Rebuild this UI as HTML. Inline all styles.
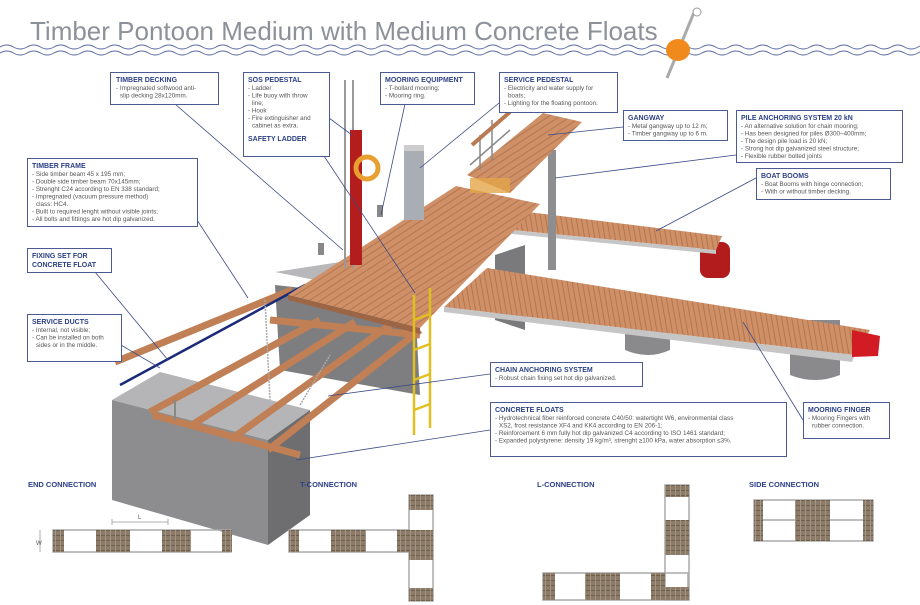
<!DOCTYPE html>
<html><head><meta charset="utf-8"><style>
html,body{margin:0;padding:0;background:#fff;}
svg{display:block;font-family:"Liberation Sans",sans-serif;}
.h{font-weight:bold;fill:#2b3f86;font-size:7px;}
.t{fill:#555;font-size:6.3px;}
.box{fill:#fff;stroke:#4a5a94;stroke-width:1;}
.ln{stroke:#3c4a86;stroke-width:0.8;fill:none;}
.cap{font-weight:bold;fill:#2b3f86;font-size:7.5px;}
</style></head><body>
<svg width="920" height="605" viewBox="0 0 920 605">
<defs>
<pattern id="wood" width="6" height="6" patternUnits="userSpaceOnUse" patternTransform="rotate(-33)">
<rect width="6" height="6" fill="#cf9068"/><rect width="6" height="1" fill="#b3764f"/></pattern>
<pattern id="wood2" width="5" height="5" patternUnits="userSpaceOnUse" patternTransform="rotate(80)">
<rect width="5" height="5" fill="#cf9068"/><rect width="5" height="1" fill="#b3764f"/></pattern>
<pattern id="grid" width="5" height="5" patternUnits="userSpaceOnUse">
<rect width="5" height="5" fill="#8c7b68"/><rect width="5" height="1" fill="#6e604f"/><rect width="1" height="5" fill="#a39483"/></pattern>
</defs>

<!-- title -->
<text x="30" y="40" font-size="26" fill="#8d9199">Timber Pontoon Medium with Medium Concrete Floats</text>
<path d="M0 47 q6.75 -4 13.5 0 t13.5 0 t13.5 0 t13.5 0 t13.5 0 t13.5 0 t13.5 0 t13.5 0 t13.5 0 t13.5 0 t13.5 0 t13.5 0 t13.5 0 t13.5 0 t13.5 0 t13.5 0 t13.5 0 t13.5 0 t13.5 0 t13.5 0 t13.5 0 t13.5 0 t13.5 0 t13.5 0 t13.5 0 t13.5 0 t13.5 0 t13.5 0 t13.5 0 t13.5 0 t13.5 0 t13.5 0 t13.5 0 t13.5 0 t13.5 0 t13.5 0 t13.5 0 t13.5 0 t13.5 0 t13.5 0 t13.5 0 t13.5 0 t13.5 0 t13.5 0 t13.5 0 t13.5 0 t13.5 0 t13.5 0 t13.5 0 t13.5 0 t13.5 0 t13.5 0 t13.5 0 t13.5 0 t13.5 0 t13.5 0 t13.5 0 t13.5 0 t13.5 0 t13.5 0 t13.5 0 t13.5 0 t13.5 0 t13.5 0 t13.5 0 t13.5 0 t13.5 0 t13.5 0 t13.5 0 t13.5 0 t13.5 0 t13.5 0" stroke="#5b6aa3" stroke-width="1" fill="none"/>
<path d="M0 53 q6.75 -4 13.5 0 t13.5 0 t13.5 0 t13.5 0 t13.5 0 t13.5 0 t13.5 0 t13.5 0 t13.5 0 t13.5 0 t13.5 0 t13.5 0 t13.5 0 t13.5 0 t13.5 0 t13.5 0 t13.5 0 t13.5 0 t13.5 0 t13.5 0 t13.5 0 t13.5 0 t13.5 0 t13.5 0 t13.5 0 t13.5 0 t13.5 0 t13.5 0 t13.5 0 t13.5 0 t13.5 0 t13.5 0 t13.5 0 t13.5 0 t13.5 0 t13.5 0 t13.5 0 t13.5 0 t13.5 0 t13.5 0 t13.5 0 t13.5 0 t13.5 0 t13.5 0 t13.5 0 t13.5 0 t13.5 0 t13.5 0 t13.5 0 t13.5 0 t13.5 0 t13.5 0 t13.5 0 t13.5 0 t13.5 0 t13.5 0 t13.5 0 t13.5 0 t13.5 0 t13.5 0 t13.5 0 t13.5 0 t13.5 0 t13.5 0 t13.5 0 t13.5 0 t13.5 0 t13.5 0 t13.5 0 t13.5 0 t13.5 0" stroke="#5b6aa3" stroke-width="1" fill="none"/>
<line x1="695" y1="10" x2="667" y2="78" stroke="#aaa" stroke-width="3"/>
<circle cx="697" cy="12" r="4" fill="#fff" stroke="#999"/>
<ellipse cx="678" cy="50" rx="12" ry="11" fill="#f08a1c"/>

<!-- floats -->
<polygon points="275,285 415,300 420,395 280,370" fill="#7e7e80"/>
<polygon points="275,272 340,262 420,300 415,300" fill="#b8b8ba"/>
<polygon points="495,255 525,245 525,330 495,320" fill="#7a7a7c"/>
<path d="M625 300 h45 v50 q-22 10 -45 0z" fill="#8a8a8c"/>
<path d="M790 320 h50 v55 q-25 10 -50 0z" fill="#8a8a8c"/>
<rect x="700" y="242" width="30" height="36" rx="8" fill="#b31c1c"/>
<!-- big float -->
<polygon points="112,400 160,372 310,410 268,440" fill="#b5b5b7"/>
<polygon points="112,400 268,440 268,545 112,500" fill="#8d8d8f"/>
<polygon points="268,440 310,410 310,515 268,545" fill="#6e6e70"/>

<!-- finger & boom -->
<polygon points="444,307 487,268 870,330 855,355" fill="url(#wood2)"/>
<polygon points="444,307 855,355 852,362 444,312" fill="#c6c6c6"/>
<polygon points="852,330 880,336 878,356 852,357" fill="#d21c24"/>
<polygon points="512,230 528,212 722,236 716,250" fill="url(#wood2)"/>
<polygon points="512,230 716,250 716,254 512,234" fill="#c6c6c6"/>
<rect x="548" y="150" width="8" height="120" fill="#8e8e90"/>

<!-- frame beams -->
<g stroke="#c07f55" stroke-width="7" stroke-linecap="butt">
<line x1="115" y1="362" x2="292" y2="290"/>
<line x1="150" y1="412" x2="320" y2="320"/>
<line x1="192" y1="425" x2="355" y2="322"/>
<line x1="230" y1="440" x2="390" y2="325"/>
<line x1="268" y1="450" x2="420" y2="330"/>
<line x1="153" y1="415" x2="300" y2="455"/>
<line x1="270" y1="320" x2="420" y2="335"/>
</g>
<line x1="120" y1="385" x2="305" y2="285" stroke="#1c2a7a" stroke-width="2.5"/>
<line x1="175" y1="400" x2="175" y2="420" stroke="#888" stroke-width="2"/>
<path d="M265 300 l5 100 M300 405 l30 -50" stroke="#aaa" stroke-width="1.5" stroke-dasharray="2 1"/>

<!-- main deck -->
<polygon points="288,295 456,186 540,204 420,328" fill="url(#wood)"/>
<polygon points="288,295 420,328 420,334 288,300" fill="#9c6646"/>
<!-- gangway -->
<polygon points="543,113 582,122 510,193 467,175" fill="url(#wood)"/>
<rect x="470" y="178" width="40" height="15" fill="#e3a548" opacity="0.8"/>
<path d="M470 165 l40 -35 M480 170 v-35 M492 160 v-40" stroke="#888" stroke-width="1.5"/>
<line x1="472" y1="145" x2="510" y2="112" stroke="#b87a52" stroke-width="4"/>

<!-- pedestals -->
<line x1="345" y1="80" x2="345" y2="268" stroke="#999" stroke-width="2"/>
<line x1="353" y1="80" x2="353" y2="268" stroke="#999" stroke-width="2"/>
<rect x="350" y="130" width="12" height="135" fill="#b41d1d"/>
<circle cx="367" cy="168" r="11" fill="none" stroke="#e8a030" stroke-width="5"/>
<rect x="404" y="145" width="20" height="75" fill="#a9aeb5"/>
<rect x="404" y="145" width="20" height="6" fill="#ccc"/>
<rect x="318" y="243" width="6" height="12" fill="#888"/>
<rect x="377" y="205" width="6" height="12" fill="#888"/>
<!-- yellow ladder -->
<g stroke="#e0c020" stroke-width="2.5" fill="none">
<line x1="414" y1="295" x2="414" y2="435"/><line x1="430" y1="288" x2="430" y2="428"/>
<line x1="414" y1="320" x2="430" y2="314"/><line x1="414" y1="350" x2="430" y2="344"/><line x1="414" y1="380" x2="430" y2="374"/><line x1="414" y1="410" x2="430" y2="404"/>
</g>

<!-- leader lines -->
<g class="ln">
<line x1="175" y1="104" x2="343" y2="250"/>
<line x1="329" y1="118" x2="352" y2="135"/>
<line x1="316" y1="144" x2="415" y2="293"/>
<line x1="405" y1="104" x2="381" y2="215"/>
<line x1="499" y1="103" x2="420" y2="168"/>
<line x1="623" y1="127" x2="548" y2="135"/>
<line x1="736" y1="155" x2="555" y2="178"/>
<line x1="756" y1="178" x2="656" y2="231"/>
<line x1="197" y1="220" x2="248" y2="298"/>
<line x1="95" y1="272" x2="168" y2="360"/>
<line x1="121" y1="345" x2="160" y2="368"/>
<line x1="490" y1="374" x2="328" y2="396"/>
<line x1="490" y1="430" x2="296" y2="460"/>
<line x1="803" y1="420" x2="743" y2="322"/>
</g>

<!-- boxes -->
<rect class="box" x="110.5" y="72.5" width="108" height="32"/>
<text class="h" x="116" y="82">TIMBER DECKING</text>
<text class="t" x="116" y="90">-  Impregnated softwood anti-</text>
<text class="t" x="120" y="97.5">slip decking 28x120mm.</text>

<rect class="box" x="243.5" y="72.5" width="86" height="84"/>
<text class="h" x="248" y="82">SOS PEDESTAL</text>
<text class="t" x="248" y="90">-  Ladder</text>
<text class="t" x="248" y="97.5">-  Life buoy with throw</text>
<text class="t" x="252" y="105">line;</text>
<text class="t" x="248" y="112.5">-  Hook</text>
<text class="t" x="248" y="120">-  Fire extinguisher and</text>
<text class="t" x="252" y="127.5">cabinet as extra.</text>
<text class="h" x="248" y="141">SAFETY LADDER</text>

<rect class="box" x="380.5" y="72.5" width="94" height="32"/>
<text class="h" x="385" y="82">MOORING EQUIPMENT</text>
<text class="t" x="385" y="90">-  T-bollard mooring;</text>
<text class="t" x="385" y="97.5">-  Mooring ring.</text>

<rect class="box" x="499.5" y="72.5" width="118" height="40"/>
<text class="h" x="504" y="82">SERVICE PEDESTAL</text>
<text class="t" x="504" y="90">-  Electricity and water supply for</text>
<text class="t" x="508" y="97.5">boats;</text>
<text class="t" x="504" y="105">-  Lighting for the floating pontoon.</text>

<rect class="box" x="623.5" y="110.5" width="104" height="30"/>
<text class="h" x="628" y="120">GANGWAY</text>
<text class="t" x="628" y="128">-  Metal gangway up to 12 m;</text>
<text class="t" x="628" y="135.5">-  Timber gangway up to 6 m.</text>

<rect class="box" x="736.5" y="110.5" width="166" height="52"/>
<text class="h" x="741" y="120">PILE ANCHORING SYSTEM 20 kN</text>
<text class="t" x="741" y="128">-  An alternative solution for chain mooring;</text>
<text class="t" x="741" y="135.5">- Has been designed for piles Ø300–400mm;</text>
<text class="t" x="741" y="143">- The design pile load is 20 kN;</text>
<text class="t" x="741" y="150.5">- Strong hot dip galvanized steel structure;</text>
<text class="t" x="741" y="158">- Flexible rubber bolted joints</text>

<rect class="box" x="756.5" y="168.5" width="134" height="31"/>
<text class="h" x="761" y="178">BOAT BOOMS</text>
<text class="t" x="761" y="186">-  Boat Booms with hinge connection;</text>
<text class="t" x="761" y="193.5">-  With or without timber decking.</text>

<rect class="box" x="27.5" y="158.5" width="170" height="68"/>
<text class="h" x="32" y="168">TIMBER FRAME</text>
<text class="t" x="32" y="176">-  Side timber beam 45 x 195 mm;</text>
<text class="t" x="32" y="183.5">-  Double side timber beam 70x145mm;</text>
<text class="t" x="32" y="191">-  Strenght C24 according to EN 338 standard;</text>
<text class="t" x="32" y="198.5">-  Impregnated (vacuum pressure method)</text>
<text class="t" x="36" y="206">class: HC4.</text>
<text class="t" x="32" y="213.5">-  Built to required lenght without visible joints;</text>
<text class="t" x="32" y="221">-  All bolts and fittings are hot dip galvanized.</text>

<rect class="box" x="27.5" y="248.5" width="84" height="24"/>
<text class="h" x="32" y="258">FIXING SET FOR</text>
<text class="h" x="32" y="267">CONCRETE FLOAT</text>

<rect class="box" x="27.5" y="314.5" width="94" height="47"/>
<text class="h" x="32" y="324">SERVICE DUCTS</text>
<text class="t" x="32" y="332">-  Internal, not visible;</text>
<text class="t" x="32" y="339.5">-  Can be installed on both</text>
<text class="t" x="36" y="347">sides or in the middle.</text>

<rect class="box" x="490.5" y="362.5" width="152" height="24"/>
<text class="h" x="495" y="372">CHAIN ANCHORING SYSTEM</text>
<text class="t" x="495" y="380">-  Robust chain fixing set hot dip galvanized.</text>

<rect class="box" x="490.5" y="402.5" width="296" height="54"/>
<text class="h" x="495" y="412">CONCRETE FLOATS</text>
<text class="t" x="495" y="420">-  Hydrotechnical fiber reinforced concrete C40/50: watertight W6, environmental class</text>
<text class="t" x="499" y="427.5">XS2, frost resistance XF4 and KK4 according to EN 206-1;</text>
<text class="t" x="495" y="435">-  Reinforcement 6 mm fully hot dip galvanized C4 according to ISO 1461 standard;</text>
<text class="t" x="495" y="442.5">-  Expanded polystyrene: density 19 kg/m³, strenght ≥100 kPa, water absorption ≤3%.</text>

<rect class="box" x="803.5" y="402.5" width="86" height="36"/>
<text class="h" x="808" y="412">MOORING FINGER</text>
<text class="t" x="808" y="420">-  Mooring Fingers with</text>
<text class="t" x="812" y="427.5">rubber connection.</text>

<!-- connections -->
<text class="cap" x="28" y="487">END CONNECTION</text>
<text class="cap" x="300" y="487">T-CONNECTION</text>
<text class="cap" x="537" y="487">L-CONNECTION</text>
<text class="cap" x="749" y="487">SIDE CONNECTION</text>

<g fill="none" stroke="#aaa" stroke-width="1.5">
<rect x="53" y="530" width="178" height="22"/>
<rect x="289" y="530" width="120" height="22"/>
<rect x="409" y="495" width="24" height="106"/>
<rect x="543" y="573" width="145" height="27"/>
<rect x="665" y="485" width="24" height="115"/>
<rect x="754" y="500" width="119" height="41"/>
<line x1="754" y1="520" x2="873" y2="520"/>
</g>
<g fill="url(#grid)">
<rect x="53" y="530" width="11" height="22"/><rect x="96" y="530" width="34" height="22"/><rect x="162" y="530" width="29" height="22"/><rect x="222" y="530" width="10" height="22"/>
<rect x="289" y="530" width="10" height="22"/><rect x="331" y="530" width="35" height="22"/><rect x="397" y="530" width="12" height="22"/>
<rect x="409" y="495" width="24" height="15"/><rect x="409" y="530" width="24" height="30"/><rect x="409" y="588" width="24" height="13"/>
<rect x="543" y="573" width="12" height="27"/><rect x="585" y="573" width="35" height="27"/><rect x="651" y="573" width="14" height="27"/>
<rect x="665" y="485" width="24" height="12"/><rect x="665" y="520" width="24" height="35"/><rect x="665" y="587" width="24" height="13"/>
<rect x="754" y="500" width="9" height="41"/><rect x="795" y="500" width="35" height="41"/><rect x="863" y="500" width="10" height="41"/>
</g>
<g stroke="#999" stroke-width="0.8" fill="none">
<path d="M112 522 h56 M112 519 v6 M168 519 v6"/>
<path d="M40 530 v22"/>
</g>
<text x="138" y="519" font-size="6" fill="#555">L</text>
<text x="36" y="545" font-size="6" fill="#555">W</text>
</svg>
</body></html>
